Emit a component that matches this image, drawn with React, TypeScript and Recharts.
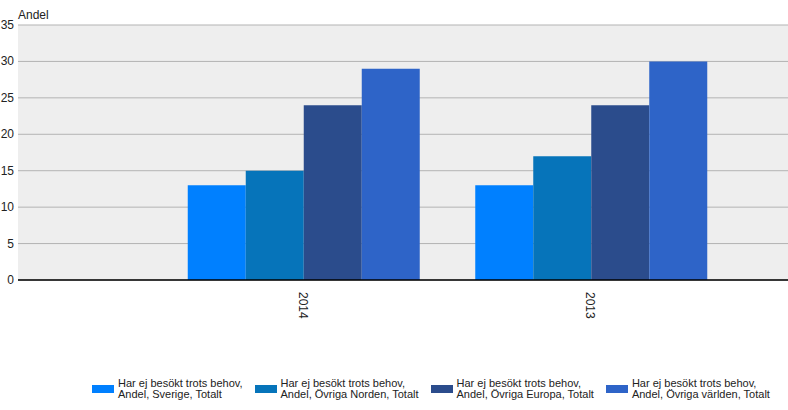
import React from 'react';
import { BarChart, Bar, XAxis, YAxis, CartesianGrid } from 'recharts';

const YEARS = ['2014', '2013'];
const SVERIGE = [13, 13];
const NORDEN = [15, 17];
const EUROPA = [24, 24];
const VARLDEN = [29, 30];
const Y_TICKS = [0, 5, 10, 15, 20, 25, 30, 35];

const SERIES = [
  { key: 'sverige', name: 'Har ej besökt trots behov,\nAndel, Sverige, Totalt', color: '#0080ff', values: SVERIGE },
  { key: 'norden', name: 'Har ej besökt trots behov,\nAndel, Övriga Norden, Totalt', color: '#0674ba', values: NORDEN },
  { key: 'europa', name: 'Har ej besökt trots behov,\nAndel, Övriga Europa, Totalt', color: '#2b4c8c', values: EUROPA },
  { key: 'varlden', name: 'Har ej besökt trots behov,\nAndel, Övriga världen, Totalt', color: '#2e64c8', values: VARLDEN },
];

const data = YEARS.map((year, i) => {
  const row: Record<string, string | number> = { year };
  for (const s of SERIES) row[s.key] = s.values[i];
  return row;
});

const FONT = '"Liberation Sans", Arial, sans-serif';

function YearTick(props: any) {
  const { x, y, payload } = props;
  return (
    <g transform={`translate(${x},${y})`}>
      <text transform="rotate(90)" x={10} y={4} textAnchor="start" fontSize={12} fontFamily={FONT} fill="#222">
        {payload.value}
      </text>
    </g>
  );
}

// value labels sit in the 18px column left of the plot, right-aligned
function ValueTick(props: any) {
  const { y, payload } = props;
  return (
    <text x={14} y={y} dy={4} textAnchor="end" fontSize={12} fontFamily={FONT} fill="#222">
      {payload.value}
    </text>
  );
}

export default function App() {
  return (
    <div style={{ position: 'absolute', left: 0, top: 0, width: 788, height: 410, fontFamily: FONT }}>
      <div style={{ position: 'absolute', left: 18, top: 8, fontSize: 12, color: '#222' }}>Andel</div>
      <BarChart
        width={788}
        height={410}
        data={data}
        margin={{ top: 25, right: 0, left: 0, bottom: 100 }}
        barCategoryGap="10%"
        barGap={0}
      >
        <CartesianGrid vertical={false} stroke="#b3b3b3" fill="#eeeeee" />
        <XAxis
          dataKey="year"
          height={30}
          padding={{ left: 141, right: 54 }}
          axisLine={{ stroke: '#000', strokeWidth: 1.5 }}
          tickLine={false}
          tickSize={0}
          tick={<YearTick />}
          interval={0}
        />
        <YAxis
          width={18}
          domain={[0, 35]}
          ticks={Y_TICKS}
          axisLine={false}
          tickLine={false}
          tick={<ValueTick />}
        />
        {SERIES.map((s) => (
          <Bar key={s.key} dataKey={s.key} name={s.name} fill={s.color} isAnimationActive={false} />
        ))}
      </BarChart>
      <div
        style={{
          position: 'absolute',
          left: 92,
          top: 378,
          display: 'flex',
          alignItems: 'center',
          gap: 12,
          fontSize: 11,
          lineHeight: '11px',
          color: '#222',
        }}
      >
        {SERIES.map((s) => (
          <div key={s.key} style={{ display: 'flex', alignItems: 'center' }}>
            <span style={{ width: 22, height: 8, background: s.color, marginRight: 4, flex: 'none' }} />
            <span style={{ whiteSpace: 'pre' }}>{s.name}</span>
          </div>
        ))}
      </div>
    </div>
  );
}
